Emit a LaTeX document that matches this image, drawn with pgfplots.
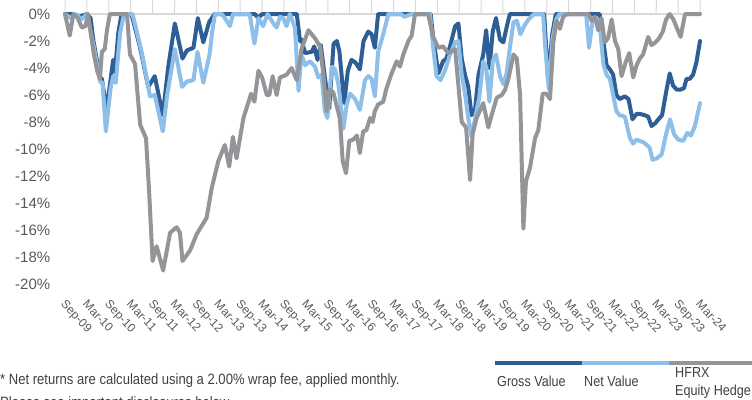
\documentclass[border=0pt]{standalone}
\usepackage{pgfplots}
\pgfplotsset{compat=1.18}
\usepackage{fontspec}
\setmainfont{Liberation Sans}
\newfontfamily\narrowfont[FakeStretch=0.87]{Liberation Sans}
\definecolor{gross}{RGB}{46,94,150}
\definecolor{net}{RGB}{141,191,232}
\definecolor{hfrx}{RGB}{147,149,152}
\definecolor{zeroline}{RGB}{217,217,217}
\definecolor{ticktext}{RGB}{89,89,89}
\definecolor{bodytext}{RGB}{64,64,64}
\begin{document}
\begin{tikzpicture}
\path[use as bounding box] (0,0) rectangle (752bp,-400bp);
\begin{axis}[
  at={(63.9bp,-284bp)}, anchor=south west,
  scale only axis, width=637.2bp, height=270bp,
  xmin=-0.3, xmax=174.3, ymin=-20, ymax=0,
  clip=false,
  axis line style={draw=none},
  major tick length=0pt,
  xtick={0,6,...,174},
  xticklabels={Sep-09,Mar-10,Sep-10,Mar-11,Sep-11,Mar-12,Sep-12,Mar-13,Sep-13,Mar-14,Sep-14,Mar-15,Sep-15,Mar-16,Sep-16,Mar-17,Sep-17,Mar-18,Sep-18,Mar-19,Sep-19,Mar-20,Sep-20,Mar-21,Sep-21,Mar-22,Sep-22,Mar-23,Sep-23,Mar-24},
  xticklabel style={rotate=-47, anchor=north west, font=\fontsize{12bp}{14bp}\selectfont, text=ticktext, inner sep=0pt, yshift=-9bp, xshift=12bp},
  ytick={-20,-18,-16,-14,-12,-10,-8,-6,-4,-2,0},
  yticklabels={-20\%,-18\%,-16\%,-14\%,-12\%,-10\%,-8\%,-6\%,-4\%,-2\%,0\%},
  yticklabel style={font=\fontsize{15bp}{17bp}\selectfont, text=ticktext, anchor=east, inner sep=0pt, xshift=-13.5bp},
  every axis plot/.append style={line width=4bp, line join=round, line cap=round, mark=none},
]
\draw[zeroline, line width=1.5bp] (axis cs:-0.3,0) -- (axis cs:174.3,0);
\pgfplotsinvokeforeach{0,6,12,18,24,30,36,42,48,54,60,66,72,78,84,90,96,102,108,114,120,126,132,138,144,150,156,162,168,174}{
  \draw[zeroline, line width=1bp] (axis cs:#1,0) -- ++(0,-4bp);
}
% Gross Value
\addplot[gross] coordinates {
(0,0) (2,0) (4,-0.2) (6,0) (7,-0.3) (7.8,-2.0) (9.6,-4.7) (10.1,-4.8) (11.4,-7.1) (13.2,-3.4) (13.7,-4.3) (14.6,-1.4) (15.5,0) (18.2,0) (20.6,-2.5) (22.8,-5.4) (24.6,-4.6) (26.8,-7.5) (28.3,-3.9) (30.1,-0.7) (32.2,-3.3) (33.4,-2.7) (35.2,-2.5) (36.4,-0.3) (37.9,-2.1) (39.5,-0.6) (41,0) (52,0) (53,-0.3) (54,0) (63.5,0) (64.4,-2.0) (64.8,-1.9) (65.8,-2.9) (67.6,-2.8) (68.3,-2.4) (69.2,-3.4) (70.1,-2.3) (71.2,-4.7) (72.4,-7.0) (73.6,-2.2) (74.5,-2.0) (75.2,-2.8) (76.5,-6.6) (77.5,-4.2) (78.5,-3.4) (79.6,-3.6) (80.8,-4.1) (81.8,-2.0) (83.1,-1.3) (84,-1.5) (84.9,-2.5) (85.8,0) (100.2,0) (100.9,-1.8) (102.3,-4.4) (103.6,-3.5) (104.5,-3.3) (105.6,-2.3) (106.9,-0.9) (107.8,-0.7) (108.7,-3.3) (109.6,-4.5) (110.5,-5.4) (111.4,-7.5) (112.4,-7.0) (113.3,-4.5) (114.6,-3.0) (115.4,-1.2) (116.3,-4.0) (117.2,-1.3) (118.1,-0.3) (119.2,-1.9) (120.1,-2.1) (121,-1.0) (121.9,0) (131.3,0) (132.4,-5.0) (133.5,-1.5) (134.5,0) (146.5,0) (147.5,-2.0) (148.4,-3.8) (149.3,-4.1) (150.2,-4.5) (151.1,-6.0) (152,-6.3) (153.4,-6.1) (154.4,-6.3) (155.5,-7.8) (156.6,-7.4) (157.5,-7.4) (158.9,-7.5) (159.8,-7.6) (160.7,-8.3) (161.7,-8.1) (162.6,-7.8) (163.6,-7.5) (164.7,-5.8) (165.7,-4.4) (166.6,-5.3) (167.6,-5.6) (168.6,-5.6) (169.6,-5.5) (170.3,-4.8) (171.2,-4.8) (172.1,-4.5) (173,-3.6) (174,-2.0)
};
% Net Value
\addplot[net] coordinates {
(0,0) (1.5,-0.3) (3,0) (4.5,-0.4) (6,0) (7.8,-2.3) (9.6,-5.0) (10.3,-5.1) (11.2,-8.7) (12.5,-5.5) (13.2,-4.6) (13.9,-5.1) (15.1,-1.4) (16.2,0) (18.5,0) (21,-2.8) (23.3,-6.1) (24.6,-6.0) (26.8,-8.7) (28,-6.0) (30.1,-2.6) (32.1,-5.4) (33.4,-5.0) (35.2,-4.9) (36.3,-2.8) (37.9,-5.1) (39.6,-3.0) (40.3,-1.4) (41.1,0) (43,0) (44.3,-0.5) (45.2,-0.9) (46,0) (50.6,0) (51.9,-2.2) (53,-0.3) (54.3,-0.9) (55.5,0) (57.1,-0.7) (58,-1.0) (58.9,-0.2) (59.8,-0.3) (60.7,-0.9) (61.6,0) (63,-1.0) (64,-5.7) (64.8,-3.0) (65.8,-3.8) (67.1,-3.5) (68.5,-3.9) (69.4,-4.7) (70.3,-4.5) (71.2,-7.2) (71.9,-7.7) (73.1,-3.9) (74,-4.1) (74.9,-5.2) (76.3,-8.5) (77.2,-6.7) (78.1,-5.9) (79.5,-6.3) (80.8,-7.1) (82.2,-4.9) (83.1,-4.6) (84,-4.8) (84.9,-6.1) (85.8,-2.8) (87.2,-1.5) (88.6,0) (92,0) (93,-0.2) (95,0) (100,0) (100.9,-2.5) (101.8,-4.6) (102.9,-4.9) (104.1,-4.2) (105.5,-3.0) (106.9,-2.1) (107.8,-2.0) (108.7,-4.5) (109.6,-5.9) (110.5,-7.7) (111.4,-9.1) (112.4,-7.7) (113.5,-6.2) (114.6,-3.5) (115.4,-3.9) (116.3,-6.5) (117.2,-3.5) (118.1,-3.0) (119.2,-4.6) (120.1,-5.2) (121,-4.4) (121.9,-2.5) (122.9,-0.6) (123.8,-0.5) (124.8,-1.5) (125.8,-0.9) (127,-0.4) (128.5,0) (131,0) (131.6,-2.5) (132.6,-5.6) (133.6,-1.8) (134.6,-0.4) (135.5,0) (142.8,0) (143.6,-2.5) (144.5,-0.6) (145.7,-0.3) (146.6,-1.0) (147.5,-3.7) (148.4,-4.5) (149.3,-4.8) (150.2,-6.0) (151.1,-7.2) (152,-7.5) (153.4,-7.6) (154.8,-9.2) (155.7,-9.6) (156.6,-9.3) (157.5,-9.4) (158.5,-9.5) (159.4,-9.7) (160.2,-9.9) (161,-10.8) (162.1,-10.7) (163.5,-10.4) (164.7,-8.9) (165.8,-7.8) (166.9,-8.9) (168,-9.3) (169.4,-9.4) (170.5,-8.8) (171.5,-9.0) (172.6,-8.3) (174,-6.6)
};
% HFRX Equity Hedge
\addplot[hfrx] coordinates {
(0,0) (1.3,-1.6) (2.3,0) (3.5,-0.3) (4.6,-1.0) (5.6,-0.9) (6.3,0) (6.8,-0.9) (7.8,-2.8) (8.8,-4.2) (9.6,-4.8) (10.1,-2.8) (10.9,-2.6) (11.5,-1.2) (12.3,0) (17,0) (17.8,-3.0) (19.2,-3.7) (20.6,-8.2) (22.2,-9.2) (23.1,-13.4) (24,-18.3) (25.1,-17.2) (26.9,-19.0) (28.8,-16.2) (30.6,-15.8) (31.5,-16.2) (32.2,-18.3) (34.3,-17.5) (36.1,-16.3) (38.8,-15.1) (40.2,-12.9) (42,-10.9) (43.8,-9.7) (45,-11.3) (46,-9.1) (47,-10.7) (48.9,-7.7) (51,-5.9) (51.9,-6.5) (53,-4.2) (54,-4.7) (55.3,-6.0) (56,-6.0) (56.9,-4.6) (58,-6.0) (58.9,-4.7) (60.7,-4.5) (62.1,-4.0) (63.5,-4.9) (64.8,-2.6) (66.7,-1.2) (68.5,-1.8) (69.9,-2.4) (70.8,-4.5) (71.7,-7.2) (72.5,-5.6) (73.5,-5.8) (75.3,-7.7) (76.1,-10.9) (77,-11.8) (77.9,-9.4) (79,-9.3) (80,-9.0) (80.8,-10.3) (81.7,-8.7) (82.6,-8.6) (83.6,-7.7) (84.3,-8.0) (84.9,-7.2) (85.8,-6.7) (87.2,-6.5) (88.1,-5.5) (89.5,-4.4) (90.9,-3.5) (91.8,-3.9) (92.7,-3.0) (94.1,-2.0) (95,-1.6) (95.9,0) (99.5,0) (100.9,-1.7) (102.3,-2.5) (103.6,-2.4) (105,-2.9) (106.9,-2.6) (108.7,-8.0) (109.9,-8.4) (111,-12.3) (111.7,-8.9) (112.8,-7.7) (114.6,-6.6) (116,-8.4) (116.9,-7.5) (118.3,-6.2) (119.7,-6.0) (120.6,-5.6) (121.5,-4.8) (122.9,-3.0) (123.8,-3.3) (124.7,-6.0) (125.6,-15.9) (126.3,-12.4) (127.4,-11.4) (128.8,-9.2) (129.7,-8.6) (130.9,-5.9) (131.9,-5.9) (132.9,-6.3) (133.8,-2.1) (134.7,-0.5) (135.6,-1.1) (136.5,-0.2) (137.5,0) (143.4,0) (144.3,-0.5) (145.2,-0.2) (146.1,-1.2) (147,-0.3) (147.9,-2.1) (148.8,-1.8) (149.8,-0.4) (150.7,-2.0) (151.6,-2.6) (152.5,-4.6) (153.6,-3.6) (154.6,-2.9) (155.7,-4.7) (156.6,-3.8) (157.5,-3.3) (158.4,-3.0) (159.8,-1.7) (160.7,-2.3) (161.8,-2.1) (162.8,-1.8) (163.8,-1.3) (164.7,-0.4) (165.7,0) (166.7,-0.4) (167.6,-1.0) (168.7,-1.7) (169.9,0) (174,0)
};
\end{axis}
% footnote
\node[anchor=base west, inner sep=0pt, text=bodytext, font=\narrowfont\fontsize{15bp}{18bp}\selectfont] at (0bp,-384bp) {* Net returns are calculated using a 2.00\% wrap fee, applied monthly.};
\node[anchor=base west, inner sep=0pt, text=bodytext, font=\narrowfont\fontsize{15bp}{18bp}\selectfont] at (0bp,-407bp) {Please see important disclosures below.};
% legend
\draw[gross, line width=4bp] (495bp,-363bp) -- (582bp,-363bp);
\draw[net, line width=4bp] (582bp,-363bp) -- (669bp,-363bp);
\draw[hfrx, line width=4bp] (669bp,-363bp) -- (752bp,-363bp);
\node[anchor=base west, inner sep=0pt, text=bodytext, font=\narrowfont\fontsize{14.5bp}{17bp}\selectfont] at (497bp,-386bp) {Gross Value};
\node[anchor=base west, inner sep=0pt, text=bodytext, font=\narrowfont\fontsize{14.5bp}{17bp}\selectfont] at (584bp,-386bp) {Net Value};
\node[anchor=base west, inner sep=0pt, text=bodytext, font=\narrowfont\fontsize{14.5bp}{17bp}\selectfont] at (675bp,-377bp) {HFRX};
\node[anchor=base west, inner sep=0pt, text=bodytext, font=\narrowfont\fontsize{14.5bp}{17bp}\selectfont] at (675bp,-395bp) {Equity Hedge};
\end{tikzpicture}
\end{document}
